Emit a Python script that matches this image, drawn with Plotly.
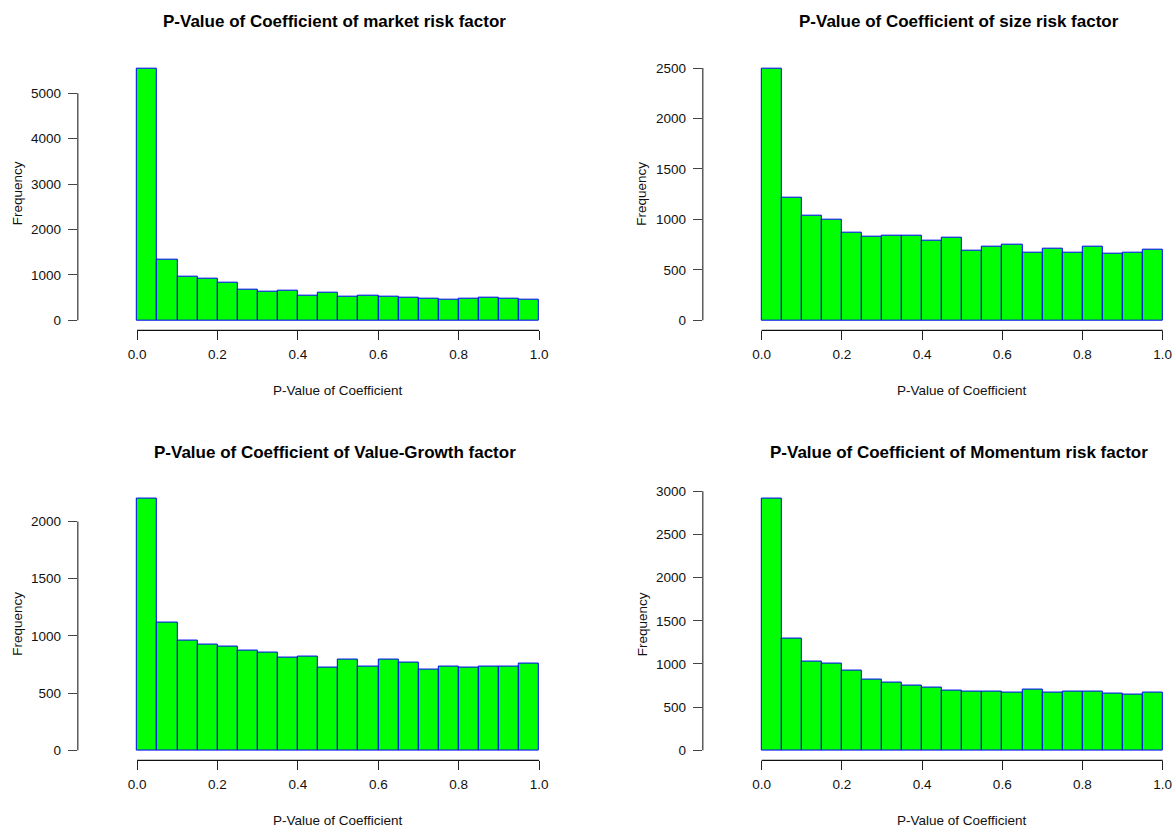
import plotly.graph_objects as go

# ---------------- data ----------------
bin_edges = [0.00, 0.05, 0.10, 0.15, 0.20, 0.25, 0.30, 0.35, 0.40, 0.45, 0.50,
             0.55, 0.60, 0.65, 0.70, 0.75, 0.80, 0.85, 0.90, 0.95, 1.00]
bin_width = 0.05

market_counts = [5541, 1330, 950, 906, 819, 665, 621, 643, 548, 599,
                 526, 548, 526, 497, 475, 453, 475, 497, 475, 453]
size_counts = [2493, 1220, 1036, 997, 868, 826, 836, 836, 793, 816,
               694, 730, 747, 674, 707, 674, 730, 664, 674, 704]
value_counts = [2200, 1120, 958, 923, 903, 874, 856, 807, 819, 723,
                790, 734, 790, 769, 702, 734, 723, 734, 734, 755]
momentum_counts = [2915, 1300, 1023, 1000, 923, 823, 785, 746, 723, 696,
                   685, 685, 673, 708, 673, 685, 685, 662, 646, 673]

titles = ["P-Value of Coefficient of market risk factor",
          "P-Value of Coefficient of size risk factor",
          "P-Value of Coefficient of Value-Growth factor",
          "P-Value of Coefficient of Momentum risk factor"]
x_label = "P-Value of Coefficient"
y_label = "Frequency"

x_ticks = [0.0, 0.2, 0.4, 0.6, 0.8, 1.0]
x_tick_text = ["0.0", "0.2", "0.4", "0.6", "0.8", "1.0"]
y_ticks_market = [0, 1000, 2000, 3000, 4000, 5000]
y_ticks_size = [0, 500, 1000, 1500, 2000, 2500]
y_ticks_value = [0, 500, 1000, 1500, 2000]
y_ticks_momentum = [0, 500, 1000, 1500, 2000, 2500, 3000]

series = [market_counts, size_counts, value_counts, momentum_counts]
yticks = [y_ticks_market, y_ticks_size, y_ticks_value, y_ticks_momentum]

# ---------------- layout geometry (pixels) ----------------
W, H = 1173, 829
FONT = "Liberation Sans, Arial, sans-serif"
geom = [
    dict(yax=77.8, x0=137.1, x1=539.1, right=556.0, top=54.0, bottom=327.3,
         tx=334, ty=17, lx=338, ly=388, fx=17.5, fy=190),
    dict(yax=702.8, x0=761.6, x1=1162.7, right=1173.0, top=54.0, bottom=327.3,
         tx=959, ty=17, lx=962, ly=388, fx=642, fy=190),
    dict(yax=77.8, x0=137.1, x1=539.1, right=556.0, top=486.5, bottom=760.0,
         tx=335, ty=450, lx=338, ly=820, fx=17.5, fy=623),
    dict(yax=702.8, x0=761.6, x1=1162.7, right=1173.0, top=486.5, bottom=760.0,
         tx=959, ty=450, lx=962, ly=820, fx=642, fy=623),
]

fig = go.Figure()
layout = dict(width=W, height=H, margin=dict(l=0, r=0, t=0, b=0),
              paper_bgcolor="white", plot_bgcolor="white", showlegend=False,
              bargap=0, font=dict(family=FONT, color="#000000"))
annotations = []
shapes = []

for i, (counts, yt, g) in enumerate(zip(series, yticks, geom)):
    n = i + 1
    xa = "x" if n == 1 else f"x{n}"
    ya = "y" if n == 1 else f"y{n}"
    fig.add_trace(go.Bar(
        x=bin_edges[:-1], y=counts, width=bin_width, offset=0,
        marker=dict(color="#00FF00", line=dict(color="#0000FF", width=1)),
        xaxis=xa, yaxis=ya, hoverinfo="x+y"))

    scale = (g["x1"] - g["x0"])  # px per unit
    xr = [(g["yax"] - g["x0"]) / scale, (g["right"] - g["x0"]) / scale]
    ymax = max(counts)
    yr = [-0.04 * ymax, 1.04 * ymax]

    layout["xaxis" if n == 1 else f"xaxis{n}"] = dict(
        domain=[g["yax"] / W, g["right"] / W], range=xr, anchor=ya,
        showgrid=False, zeroline=False, showline=False,
        tickmode="array", tickvals=x_ticks, ticktext=x_tick_text,
        ticks="outside", ticklen=9, tickwidth=1, tickcolor="#222222",
        ticklabelstandoff=2,
        tickfont=dict(family=FONT, size=13.5, color="#111111"))
    layout["yaxis" if n == 1 else f"yaxis{n}"] = dict(
        domain=[1 - g["bottom"] / H, 1 - g["top"] / H], range=yr, anchor=xa,
        showgrid=False, zeroline=False, showline=False,
        tickmode="array", tickvals=yt, ticktext=[str(v) for v in yt],
        ticks="outside", ticklen=9, tickwidth=1, tickcolor="#444444",
        ticklabelstandoff=4,
        tickfont=dict(family=FONT, size=13.5, color="#111111"))

    # R-style axis lines spanning only the tick range
    shapes.append(dict(type="line", xref=f"{xa} domain", yref=ya,
                       x0=0, x1=0, y0=yt[0], y1=yt[-1],
                       line=dict(color="#444444", width=1.3)))
    shapes.append(dict(type="line", xref=xa, yref=f"{ya} domain",
                       x0=x_ticks[0], x1=x_ticks[-1], y0=0, y1=0,
                       line=dict(color="#111111", width=1.3)))

    annotations.append(dict(text=f"<b>{titles[i]}</b>", xref="paper", yref="paper",
                            x=g["tx"] / W, y=1 - g["ty"] / H, xanchor="center",
                            yanchor="middle", showarrow=False,
                            font=dict(family=FONT, size=17, color="#000000")))
    annotations.append(dict(text=x_label, xref="paper", yref="paper",
                            x=g["lx"] / W, y=1 - g["ly"] / H, xanchor="center",
                            yanchor="middle", showarrow=False,
                            font=dict(family=FONT, size=13.5, color="#111111")))
    annotations.append(dict(text=y_label, xref="paper", yref="paper",
                            x=g["fx"] / W, y=1 - g["fy"] / H, xanchor="center",
                            yanchor="middle", showarrow=False, textangle=-90,
                            font=dict(family=FONT, size=13.5, color="#111111")))

layout["annotations"] = annotations
layout["shapes"] = shapes
fig.update_layout(**layout)
fig.write_html("out.html",
               config={"displayModeBar": False},
               post_script="document.body.style.margin='0';"
                           "document.body.style.overflow='hidden';")
